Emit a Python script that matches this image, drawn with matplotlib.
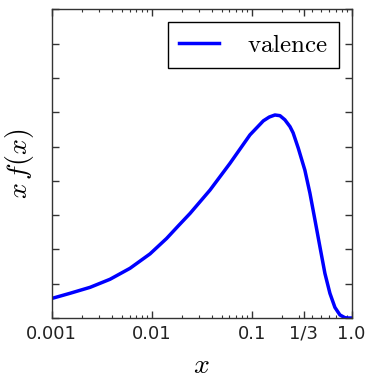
import matplotlib
matplotlib.use("Agg")
import matplotlib.pyplot as plt
from matplotlib.ticker import FixedLocator, LogLocator, NullFormatter, NullLocator

plt.rcParams['mathtext.fontset'] = 'cm'

# data
x_vals = [0.001, 0.00152, 0.00242, 0.00383, 0.00607, 0.00962, 0.0141, 0.0185,
          0.0242, 0.0383, 0.0607, 0.0962, 0.131, 0.15, 0.171, 0.192, 0.215,
          0.242, 0.26, 0.293, 0.341, 0.383, 0.43, 0.482, 0.541, 0.607, 0.681,
          0.764, 0.857, 0.93, 1.0]
y_vals = [0.057, 0.072, 0.0895, 0.113, 0.145, 0.187, 0.232, 0.269,
          0.305, 0.373, 0.451, 0.534, 0.575, 0.586, 0.592, 0.590, 0.578,
          0.558, 0.540, 0.495, 0.431, 0.364, 0.286, 0.208, 0.130, 0.072, 0.031,
          0.009, 0.001, 0.0, 0.0]
xtick_vals = [0.001, 0.01, 0.1, 1/3, 1.0]
xtick_labels = ['0.001', '0.01', '0.1', '1/3', '1.0']
ytick_vals = [0.0, 0.1, 0.2, 0.3, 0.4, 0.5, 0.6, 0.7, 0.8, 0.9]
series_label = r'$\mathrm{valence}$'

fig = plt.figure(figsize=(3.67, 3.82), dpi=100)
ax = fig.add_axes([0.141, 0.1675, 0.817, 0.808])
ax.plot(x_vals, y_vals, color='#0000ff', lw=2.5, label=series_label,
        solid_joinstyle='round')
ax.set_xscale('log')
ax.set_xlim(0.001, 1.0)
ax.set_ylim(0, 0.9)

ax.xaxis.set_major_locator(FixedLocator(xtick_vals))
ax.set_xticklabels(xtick_labels)
ax.xaxis.set_minor_locator(LogLocator(base=10, subs=range(2, 10)))
ax.xaxis.set_minor_formatter(NullFormatter())
ax.yaxis.set_major_locator(FixedLocator(ytick_vals))
ax.yaxis.set_minor_locator(NullLocator())
ax.set_yticklabels([])

ax.tick_params(which='both', direction='in', top=True, right=True, colors='#333333')
ax.tick_params(which='major', length=5, width=1, labelsize=13, labelcolor='#222222', pad=5)
ax.tick_params(which='minor', length=2.5, width=0.8)
for s in ax.spines.values():
    s.set_color('#333333')
    s.set_linewidth(1.0)

ax.set_xlabel(r'$x$', fontsize=20, labelpad=6)
ax.set_ylabel(r'$x\,f(x)$', fontsize=20, labelpad=6)

leg = ax.legend(loc='upper right', fancybox=False, fontsize=18, handlelength=1.6,
                borderpad=0.45, handletextpad=1.1, framealpha=1, borderaxespad=0.5)
leg.get_frame().set_edgecolor('black')
leg.get_frame().set_linewidth(1.0)

fig.savefig('out.png', dpi=100)
